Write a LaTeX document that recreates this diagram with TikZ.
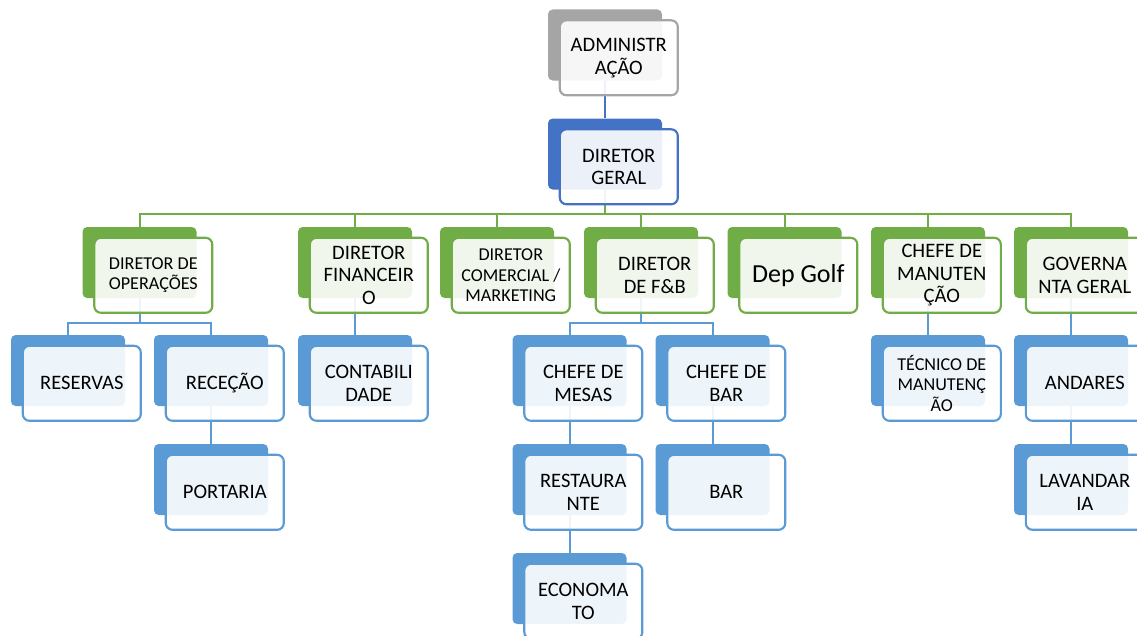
\documentclass[tikz,border=0pt]{standalone}
\usepackage{fontspec}
\setmainfont{Carlito}
\usepackage{tikz}
\usepackage{xcolor}
\definecolor{orggray}{HTML}{A5A5A5}
\definecolor{orgdark}{HTML}{4472C4}
\definecolor{orggreen}{HTML}{70AD47}
\definecolor{orgblue}{HTML}{5B9BD5}

\begin{document}
\begin{tikzpicture}[
    x=0.75pt, y=-0.75pt,
    backbox/.style={fill=#1, rounded corners=3.5pt, minimum width=85.5pt, minimum height=53.25pt, inner sep=0pt},
    frontbox/.style={draw=#1, line width=1.6pt, fill=white, fill opacity=0.9, draw opacity=1, text opacity=1,
      rounded corners=5pt, minimum width=88.5pt, minimum height=56.25pt, inner sep=0pt, align=center,
      anchor=north west, font=\fontsize{15.4}{17}\selectfont},
    small/.style={font=\fontsize{13.6}{15.2}\selectfont},
    orgline/.style={draw=#1, line width=1.5pt}
  ]
    \useasboundingbox (0,0) rectangle (1137,635);

    % back boxes
    \foreach \n/\x/\y/\c in {admin/605/45/orggray, dg/605/154/orgdark,
        oper/139.5/262.5/orggreen, fin/355/262.5/orggreen, com/497/262.5/orggreen, fb/641/262.5/orggreen,
        golf/784.5/262.5/orggreen, manut/928/262.5/orggreen, gov/1071/262.5/orggreen,
        res/68/370.5/orgblue, rec/211/370.5/orgblue, cont/355/370.5/orgblue, mesas/569.5/370.5/orgblue,
        cbar/712.5/370.5/orgblue, tec/928/370.5/orgblue, andar/1071/370.5/orgblue,
        port/211/479.5/orgblue, rest/569.5/479.5/orgblue, bar/712.5/479.5/orgblue, lav/1071/479.5/orgblue,
        econ/569.5/588.5/orgblue}
      \node[backbox=\c] (\n) at (\x,\y) {};

    % connectors
    \draw[orgline=orgdark] (admin) -- (dg);
    \foreach \c in {oper,fin,com,fb,golf,manut,gov}
      \draw[orgline=orggreen] (dg.south) -- ++(0,24) -| (\c.north);
    \foreach \p/\c in {oper/res, oper/rec, fb/mesas, fb/cbar}
      \draw[orgline=orgblue] (\p.south) -- ++(0,25) -| (\c.north);
    \foreach \p/\c in {fin/cont, manut/tec, gov/andar, rec/port, mesas/rest, rest/econ, cbar/bar, andar/lav}
      \draw[orgline=orgblue] (\p) -- (\c);

    % front boxes
    \node[frontbox=orggray] (admin-t) at ([shift={(11,10)}]admin.north west) {ADMINISTR\\AÇÃO};
    \node[frontbox=orgdark] (dg-t) at ([shift={(11,10)}]dg.north west) {DIRETOR\\GERAL};
    \node[frontbox=orggreen, small] (oper-t) at ([shift={(11,10)}]oper.north west) {DIRETOR DE\\OPERAÇÕES};
    \node[frontbox=orggreen] (fin-t) at ([shift={(11,10)}]fin.north west) {DIRETOR\\FINANCEIR\\O};
    \node[frontbox=orggreen, small] (com-t) at ([shift={(11,10)}]com.north west) {DIRETOR\\COMERCIAL /\\MARKETING};
    \node[frontbox=orggreen] (fb-t) at ([shift={(11,10)}]fb.north west) {DIRETOR\\DE F\&B};
    \node[frontbox=orggreen, font=\fontsize{19.5}{22}\selectfont] (golf-t) at ([shift={(11,10)}]golf.north west) {Dep Golf};
    \node[frontbox=orggreen] (manut-t) at ([shift={(11,10)}]manut.north west) {CHEFE DE\\MANUTEN\\ÇÃO};
    \node[frontbox=orggreen] (gov-t) at ([shift={(11,10)}]gov.north west) {GOVERNA\\NTA GERAL};
    \node[frontbox=orgblue] (res-t) at ([shift={(11,10)}]res.north west) {RESERVAS};
    \node[frontbox=orgblue] (rec-t) at ([shift={(11,10)}]rec.north west) {RECEÇÃO};
    \node[frontbox=orgblue] (cont-t) at ([shift={(11,10)}]cont.north west) {CONTABILI\\DADE};
    \node[frontbox=orgblue] (mesas-t) at ([shift={(11,10)}]mesas.north west) {CHEFE DE\\MESAS};
    \node[frontbox=orgblue] (cbar-t) at ([shift={(11,10)}]cbar.north west) {CHEFE DE\\BAR};
    \node[frontbox=orgblue, small] (tec-t) at ([shift={(11,10)}]tec.north west) {TÉCNICO DE\\MANUTENÇ\\ÃO};
    \node[frontbox=orgblue] (andar-t) at ([shift={(11,10)}]andar.north west) {ANDARES};
    \node[frontbox=orgblue] (port-t) at ([shift={(11,10)}]port.north west) {PORTARIA};
    \node[frontbox=orgblue] (rest-t) at ([shift={(11,10)}]rest.north west) {RESTAURA\\NTE};
    \node[frontbox=orgblue] (bar-t) at ([shift={(11,10)}]bar.north west) {BAR};
    \node[frontbox=orgblue] (lav-t) at ([shift={(11,10)}]lav.north west) {LAVANDAR\\IA};
    \node[frontbox=orgblue] (econ-t) at ([shift={(11,10)}]econ.north west) {ECONOMA\\TO};
  \end{tikzpicture}
\end{document}
